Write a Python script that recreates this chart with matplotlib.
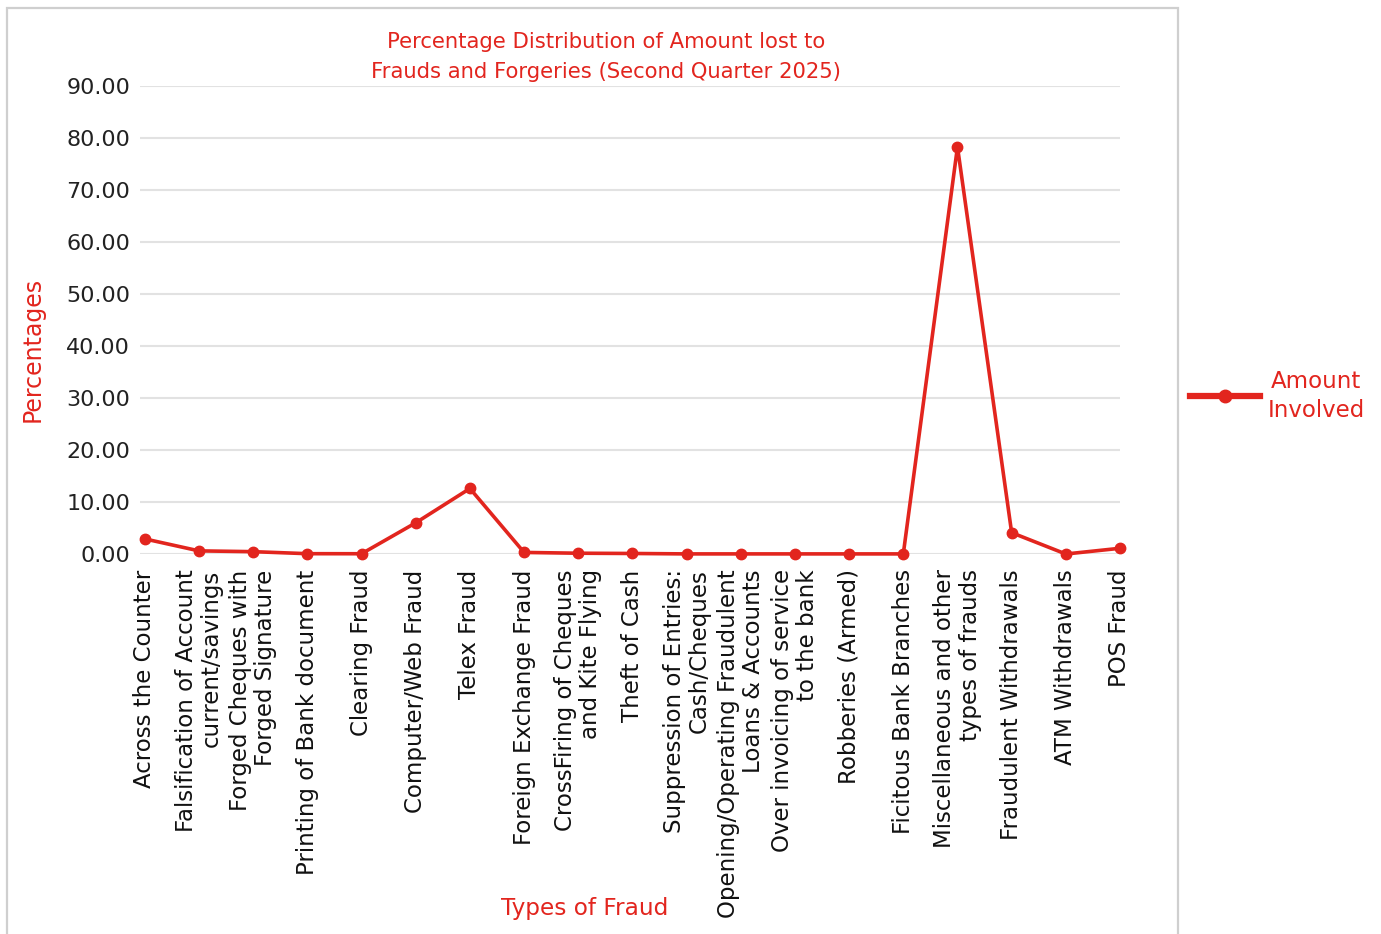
import matplotlib
matplotlib.use("Agg")
import matplotlib.pyplot as plt
from matplotlib.patches import Rectangle
from matplotlib.lines import Line2D

# Fraud categories and share of amount lost (%)
categories = [
    "Across the Counter",
    "Falsification of Account\ncurrent/savings",
    "Forged Cheques with\nForged Signature",
    "Printing of Bank document",
    "Clearing Fraud",
    "Computer/Web Fraud",
    "Telex Fraud",
    "Foreign Exchange Fraud",
    "CrossFiring of Cheques\nand Kite Flying",
    "Theft of Cash",
    "Suppression of Entries:\nCash/Cheques",
    "Opening/Operating Fraudulent\nLoans & Accounts",
    "Over invoicing of service\nto the bank",
    "Robberies (Armed)",
    "Ficitous Bank Branches",
    "Miscellaneous and other\ntypes of frauds",
    "Fraudulent Withdrawals",
    "ATM Withdrawals",
    "POS Fraud",
]
amount_involved = [2.9, 0.6, 0.45, 0.06, 0.05, 6.0, 12.6, 0.3, 0.15, 0.1,
                   0.02, 0.02, 0.02, 0.02, 0.02, 78.3, 4.1, 0.0, 1.1]
y_ticks = [0, 10, 20, 30, 40, 50, 60, 70, 80, 90]

RED = "#E2251E"
FONT = "DejaVu Sans"

plt.rcParams["font.family"] = [FONT]

W, H = 1381, 934
fig = plt.figure(figsize=(W / 100, H / 100), dpi=100)
fig.patch.set_facecolor("white")

# light frame around the chart area
fig.patches.append(Rectangle((7 / W, -0.05), (1178 - 7) / W, 1.05 - 8 / H,
                             transform=fig.transFigure, fill=False,
                             edgecolor="#cfcfcf", linewidth=1.6))

ax = fig.add_axes([140 / W, 1 - 554 / H, 980 / W, (554 - 86) / H])
x = list(range(len(categories)))
ax.plot(x, amount_involved, color=RED, linewidth=2.6, marker="o",
        markersize=7.5, clip_on=False, zorder=3)

ax.set_xlim(-0.09, 18.0)
ax.set_ylim(0, 90)
ax.set_yticks(y_ticks)
ax.set_yticklabels([f"{v:.2f}" for v in y_ticks], fontsize=16, color="#222222")
ax.set_xticks(x)
ax.set_xticklabels(categories, rotation=90, fontsize=16.5, color="#111111",
                   ha="center", va="top", multialignment="right",
                   linespacing=1.12)
ax.tick_params(axis="both", length=0)
ax.tick_params(axis="x", pad=11)
ax.tick_params(axis="y", pad=7)
ax.grid(axis="y", color="#e2e2e2", linewidth=1.5)
ax.set_axisbelow(True)
for s in ax.spines.values():
    s.set_visible(False)

fig.text(606 / W, 1 - 57 / H,
         "Percentage Distribution of Amount lost to\nFrauds and Forgeries (Second Quarter 2025)",
         ha="center", va="center", fontsize=15.2, color=RED, linespacing=1.6)
fig.text(33 / W, 1 - 349 / H, "Percentages", rotation=90, ha="center",
         va="center", fontsize=17, color=RED)
fig.text(585 / W, 1 - 908 / H, "Types of Fraud", ha="center", va="center",
         fontsize=16.7, color=RED)

# legend drawn outside the frame on the right
leg_line = Line2D([1190 / W, 1260 / W], [1 - 396 / H, 1 - 396 / H],
                  transform=fig.transFigure, color=RED, linewidth=4.5)
leg_mark = Line2D([1225 / W], [1 - 396 / H], transform=fig.transFigure,
                  color=RED, marker="o", markersize=9, linestyle="none")
fig.lines.extend([leg_line, leg_mark])
fig.text(1316 / W, 1 - 396 / H, "Amount\nInvolved", ha="center", va="center",
         fontsize=16.5, color=RED, linespacing=1.35)

fig.savefig("out.png", dpi=100, facecolor="white")
